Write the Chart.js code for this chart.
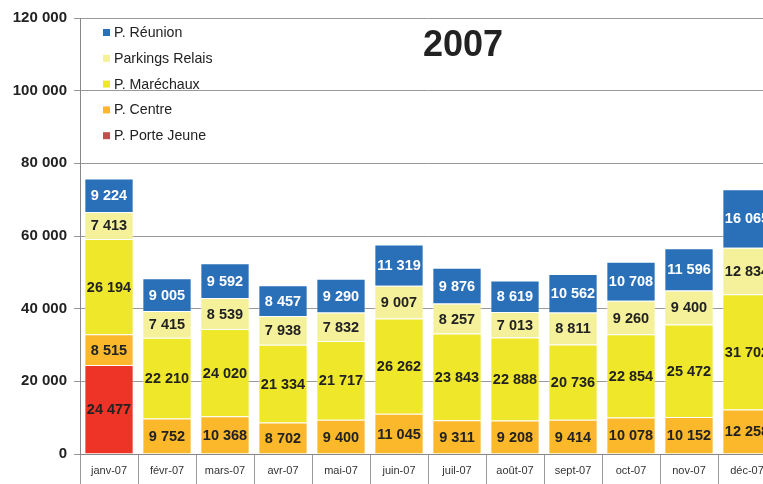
<!DOCTYPE html>
<html>
<head>
<meta charset="utf-8">
<script src="https://cdn.jsdelivr.net/npm/chart.js@4"></script>
<style>
  html, body { margin: 0; padding: 0; background: #fff; overflow: hidden; }
  #wrap { width: 790px; height: 484px; }
</style>
</head>
<body>
<div id="wrap"><canvas id="barChart" width="790" height="484"></canvas></div>
<script>
// Fréquentation mensuelle des parkings, 2007
const months = ["janv-07", "févr-07", "mars-07", "avr-07", "mai-07", "juin-07",
  "juil-07", "août-07", "sept-07", "oct-07", "nov-07", "déc-07"];

const porteJeune = [24477, 0, 0, 0, 0, 0, 0, 0, 0, 0, 0, 0];
const centre = [8515, 9752, 10368, 8702, 9400, 11045, 9311, 9208, 9414, 10078, 10152, 12258];
const marechaux = [26194, 22210, 24020, 21334, 21717, 26262, 23843, 22888, 20736, 22854, 25472, 31702];
const relais = [7413, 7415, 8539, 7938, 7832, 9007, 8257, 7013, 8811, 9260, 9400, 12834];
const reunion = [9224, 9005, 9592, 8457, 9290, 11319, 9876, 8619, 10562, 10708, 11596, 16065];

const yTicks = [0, 20000, 40000, 60000, 80000, 100000, 120000];

const FONT = "'Liberation Sans', Arial, sans-serif";

function fmt(v) {
  return String(v).replace(/\B(?=(\d{3})+(?!\d))/g, " ");
}

// labels in the middle of each segment
const segmentLabels = {
  id: "segmentLabels",
  afterDatasetsDraw(chart) {
    const ctx = chart.ctx;
    ctx.save();
    ctx.font = "bold 14.5px " + FONT;
    ctx.textAlign = "center";
    ctx.textBaseline = "middle";
    chart.data.datasets.forEach((ds, i) => {
      const meta = chart.getDatasetMeta(i);
      meta.data.forEach((bar, j) => {
        const v = ds.data[j];
        if (!v) return;
        ctx.fillStyle = ds.labelColor;
        ctx.fillText(fmt(v), bar.x, (bar.y + bar.base) / 2 + 1);
      });
    });
    ctx.restore();
  },
};

// legend + year, drawn inside the plot
const inlineLegend = {
  id: "inlineLegend",
  afterDraw(chart) {
    const ctx = chart.ctx;
    ctx.save();
    ctx.font = "14.2px " + FONT;
    ctx.textBaseline = "middle";
    ctx.textAlign = "left";
    const items = chart.data.datasets.slice().reverse();
    items.forEach((ds, k) => {
      const y = 32 + k * 25.8;
      ctx.fillStyle = ds.legendColor || ds.backgroundColor;
      ctx.fillRect(103, y - 3, 7, 7);
      ctx.fillStyle = "#222";
      ctx.fillText(ds.label, 114, y + 1);
    });
    ctx.font = "bold 36px " + FONT;
    ctx.textAlign = "center";
    ctx.fillStyle = "#222";
    ctx.fillText("2007", 463, 46);
    ctx.restore();
  },
};

const barCtx = document.getElementById("barChart").getContext("2d");
const barChart = new Chart(barCtx, {
  type: "bar",
  data: {
    labels: months,
    datasets: [
      { label: "P. Porte Jeune", data: porteJeune, backgroundColor: "#ee3327", legendColor: "#c0504d", labelColor: "#222" },
      { label: "P. Centre", data: centre, backgroundColor: "#fbb82b", labelColor: "#222" },
      { label: "P. Maréchaux", data: marechaux, backgroundColor: "#efe82a", labelColor: "#222" },
      { label: "Parkings Relais", data: relais, backgroundColor: "#f5f19b", labelColor: "#222" },
      { label: "P. Réunion", data: reunion, backgroundColor: "#2a70b9", labelColor: "#fff" },
    ],
  },
  options: {
    responsive: false,
    animation: false,
    devicePixelRatio: 1,
    layout: { padding: { top: 18, right: 14, left: 0, bottom: 0 } },
    datasets: {
      bar: {
        barPercentage: 0.85,
        categoryPercentage: 1,
        borderWidth: 1,
        borderColor: "rgba(255,255,255,0.35)",
      },
    },
    plugins: {
      legend: { display: false },
      title: { display: false },
      tooltip: { enabled: false },
    },
    scales: {
      x: {
        stacked: true,
        afterFit: (s) => { s.height = 30; },
        border: { color: "#888" },
        grid: {
          offset: true,
          drawOnChartArea: false,
          drawTicks: true,
          tickLength: 30,
          color: "#999",
        },
        ticks: {
          padding: -20,
          color: "#333",
          font: { family: FONT, size: 11 },
        },
      },
      y: {
        stacked: true,
        min: 0,
        max: 120000,
        afterFit: (s) => { s.width = 80; },
        afterBuildTicks: (s) => { s.ticks = yTicks.map((v) => ({ value: v })); },
        border: { color: "#888" },
        grid: { color: "#999", tickLength: 6, lineWidth: 1 },
        ticks: {
          padding: 7,
          color: "#222",
          font: { family: FONT, size: 15, weight: "bold" },
          callback: (v) => fmt(v),
        },
      },
    },
  },
  plugins: [segmentLabels, inlineLegend],
});
</script>
</body>
</html>
